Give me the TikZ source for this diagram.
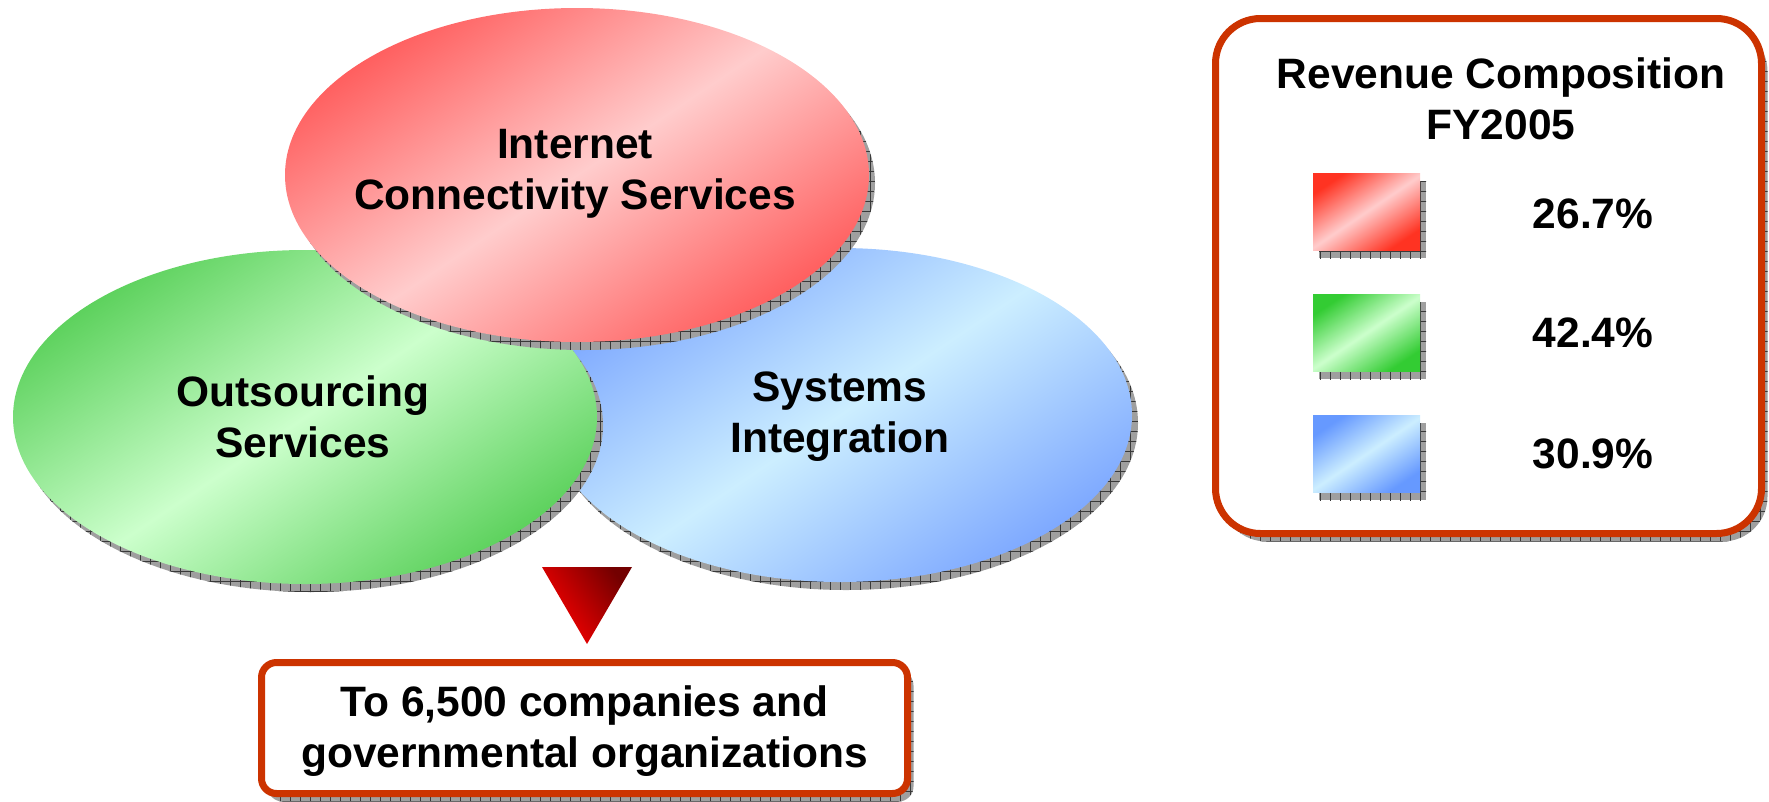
\documentclass[tikz,border=0pt]{standalone}
\usepackage{fontspec}
\setmainfont{Liberation Sans}
\usetikzlibrary{shadows,patterns.meta}
\definecolor{redstrong}{HTML}{FF3322}
\definecolor{redsoft}{HTML}{FF5E5E}
\definecolor{redlight}{HTML}{FFCCCC}
\definecolor{greenstrong}{HTML}{33CC33}
\definecolor{greensoft}{HTML}{5CD15C}
\definecolor{greenlight}{HTML}{CCFFCC}
\definecolor{bluestrong}{HTML}{6699FF}
\definecolor{bluesoft}{HTML}{7DA8FF}
\definecolor{bluelight}{HTML}{CCEEFF}
\definecolor{framered}{HTML}{CC3300}
\tikzset{
	hatchshadow/.style={
		general shadow={shadow xshift=6pt,shadow yshift=-8pt,fill=gray!75},
		general shadow={shadow xshift=6pt,shadow yshift=-8pt,pattern={Hatch[angle=0,distance=10pt,line width=0.8pt]},pattern color=gray!45!black}},
	redfill/.style={top color=#1,bottom color=#1,middle color=redlight,shading angle=34},
	greenfill/.style={top color=#1,bottom color=#1,middle color=greenlight,shading angle=34},
	bluefill/.style={top color=#1,bottom color=#1,middle color=bluelight,shading angle=34},
	oval/.style={hatchshadow},
	swatch/.style={rectangle,minimum width=107pt,minimum height=77pt,inner sep=0pt,hatchshadow},
	frame/.style={draw=framered,line width=7pt,fill=white,align=center,hatchshadow}
}
\begin{document}
\begin{tikzpicture}[x=1pt,y=1pt,font=\fontsize{42.5}{51}\selectfont\bfseries]
		\useasboundingbox (0,0) rectangle (1769,-801);
		%three service ovals
		\path[oval,bluefill=bluesoft] (840,-415) ellipse [x radius=292,y radius=167];
		\node[align=center] (si) at (840,-417) {Systems\\Integration};
		\path[oval,greenfill=greensoft] (305,-417) ellipse [x radius=292,y radius=167];
		\node[align=center] (os) at (303,-417) {Outsourcing\\Services};
		\path[oval,redfill=redsoft] (577,-175) ellipse [x radius=292,y radius=167];
		\node[align=center] (ics) at (575,-174) {Internet\\Connectivity Services};
		%arrow down to customers
		\coordinate (tl) at (542,-567);
		\coordinate (tr) at (632,-567);
		\coordinate (tb) at (587,-644);
		\shade[top color=red!45!black,middle color=red,bottom color=red,shading angle=-55] (tl)--(tr)--(tb)--cycle;
		\node[frame,rounded corners=15pt,minimum width=646pt,minimum height=131pt] (cust) at (584.5,-728) {};
		\node[align=center] (custtext) at (cust.center) [yshift=-3pt] {To 6,500 companies and\\governmental organizations};
		%legend box
		\node[frame,rounded corners=45pt,minimum width=546pt,minimum height=515pt] (legend) at (1488.5,-276) {};
		\node (title) at (1501,-99) [align=center] {Revenue Composition\\FY2005};
		\node[swatch,redfill=redstrong] (sw1) at (1366.5,-211.5) {};
		\node[swatch,greenfill=greenstrong] (sw2) at (1366.5,-332.5) {};
		\node[swatch,bluefill=bluestrong] (sw3) at (1366.5,-453.5) {};
		\node (p1) at (1593,-214) {26.7\%};
		\node (p2) at (1593,-333) {42.4\%};
		\node (p3) at (1593,-454) {30.9\%};
	\end{tikzpicture}
\end{document}
